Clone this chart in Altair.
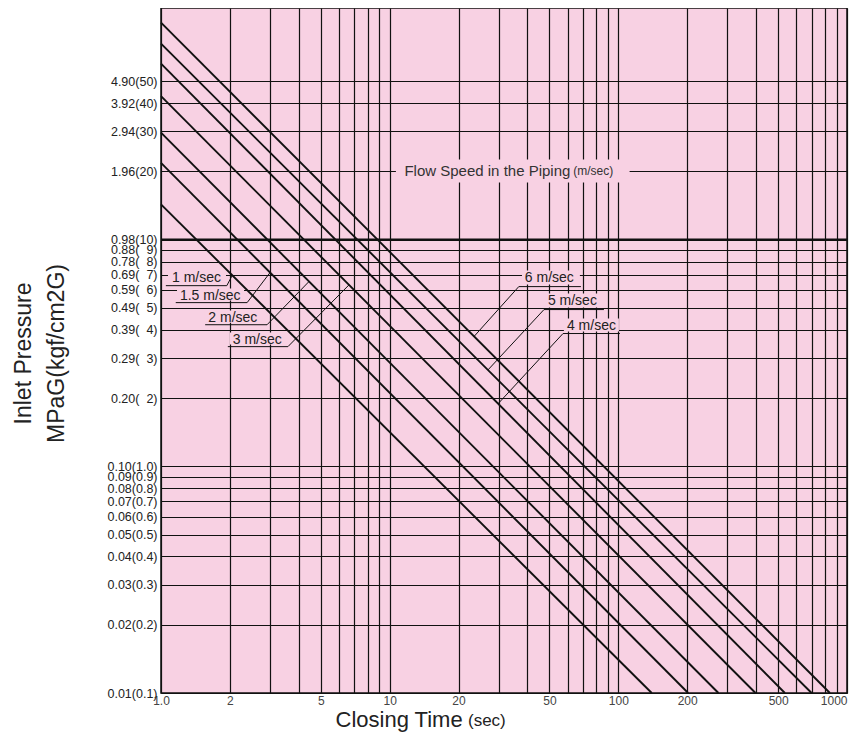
import math
import altair as alt
import pandas as pd

# ---------------- data ----------------
closing_time_grid = [1, 2, 3, 4, 5, 6, 7, 8, 9,
                     10, 20, 30, 40, 50, 60, 70, 80, 90,
                     100, 200, 300, 400, 500, 600, 700, 800, 900, 1000]
closing_time_ticks = [1, 2, 5, 10, 20, 50, 100, 200, 500, 1000]
closing_time_labels = ["1.0", "2", "5", "10", "20", "50", "100", "200", "500", "1000"]

pressure_kgf = [0.1, 0.2, 0.3, 0.4, 0.5, 0.6, 0.7, 0.8, 0.9, 1.0,
                2, 3, 4, 5, 6, 7, 8, 9, 10, 20, 30, 40, 50]
pressure_labels = ["0.01(0.1)", "0.02(0.2)", "0.03(0.3)", "0.04(0.4)", "0.05(0.5)",
                   "0.06(0.6)", "0.07(0.7)", "0.08(0.8)", "0.09(0.9)", "0.10(1.0)",
                   "0.20(\u20072)", "0.29(\u20073)", "0.39(\u20074)", "0.49(\u20075)",
                   "0.59(\u20076)", "0.69(\u20077)", "0.78(\u20078)", "0.88(\u20079)",
                   "0.98(10)", "1.96(20)", "2.94(30)", "3.92(40)", "4.90(50)"]

speed_names = ["1 m/sec", "1.5 m/sec", "2 m/sec", "3 m/sec", "4 m/sec", "5 m/sec", "6 m/sec"]
pressure_at_1s = [14.3, 21.8, 29.6, 42.9, 59.7, 73.1, 90.5]        # kgf/cm2 at t = 1 s
time_at_min_pressure = [140, 202, 274, 398, 535, 700, 842]          # s where line reaches 0.1 kgf/cm2

# ---------------- annotation placement (data units) ----------------
PINK = "#f8d1e3"
FONT = "Liberation Sans"

ann = {
    "1 m/sec":   dict(tx=1.117, tp=6.53, up=6.26, u0=1.05, u1=1.94, te=2.05, box=(1.073, 1.924, 7.37, 6.39), side="L"),
    "1.5 m/sec": dict(tx=1.21, tp=5.43, up=5.27, u0=1.16, u1=2.38, te=3.0, box=(1.175, 2.307, 6.08, 5.38), side="L"),
    "2 m/sec":   dict(tx=1.61, tp=4.35, up=4.21, u0=1.56, u1=2.91, te=4.44, box=(1.557, 2.765, 4.86, 4.30), side="L"),
    "3 m/sec":   dict(tx=2.06, tp=3.47, up=3.37, u0=1.96, u1=3.59, te=6.64, box=(2.003, 3.52, 3.89, 3.44), side="L"),
    "6 m/sec":   dict(tx=39.0, tp=6.53, up=6.20, u0=36.7, u1=68.6, te=23.4, box=(37.9, 67.9, 7.30, 6.33), side="R"),
    "5 m/sec":   dict(tx=49.2, tp=5.16, up=4.91, u0=47.3, u1=86.5, te=26.9, box=(47.8, 85.6, 5.78, 5.01), side="R"),
    "4 m/sec":   dict(tx=59.6, tp=4.0, up=3.85, u0=57.3, u1=101.6, te=29.8, box=(57.8, 100.6, 4.48, 3.93), side="R"),
}


def on_line(i, t):
    p1 = pressure_at_1s[i]
    tm = time_at_min_pressure[i]
    f = math.log10(t) / math.log10(tm)
    return 10 ** (math.log10(p1) + f * (math.log10(0.1) - math.log10(p1)))


# ---------------- tables ----------------
line_rows = []
for name, p1, tm in zip(speed_names, pressure_at_1s, time_at_min_pressure):
    line_rows.append({"speed": name, "t": 1, "p": p1})
    line_rows.append({"speed": name, "t": tm, "p": 0.1})
lines_df = pd.DataFrame(line_rows)

leader_rows, text_rows, box_rows = [], [], []
for i, name in enumerate(speed_names):
    a = ann[name]
    end = (a["te"], on_line(i, a["te"]))
    if a["side"] == "L":
        pts = [(a["u0"], a["up"]), (a["u1"], a["up"]), end]
    else:
        pts = [end, (a["u0"], a["up"]), (a["u1"], a["up"])]
    for k, (t, p) in enumerate(pts):
        leader_rows.append({"lab": name, "o": k, "t": t, "p": p})
    text_rows.append({"lab": name, "t": a["tx"], "p": a["tp"]})
    b = a["box"]
    box_rows.append({"t": b[0], "t2": b[1], "p": b[2], "p2": b[3]})
box_rows.append({"t": 10.65, "t2": 112, "p": 22.55, "p2": 17.85})

leaders_df = pd.DataFrame(leader_rows)
texts_df = pd.DataFrame(text_rows)
boxes_df = pd.DataFrame(box_rows)
flow_df = pd.DataFrame([
    {"txt": "Flow Speed in the Piping", "t": 11.6, "p": 20, "fs": 15},
    {"txt": "(m/sec)", "t": 63.5, "p": 20, "fs": 12},
])
ten_df = pd.DataFrame({"p": [10]})
sec_df = pd.DataFrame({"txt": ["(sec)"]})

# ---------------- axes & scales ----------------
xexpr = " : ".join(f"datum.value == {v} ? '{l}'" for v, l in zip(closing_time_ticks, closing_time_labels)) + " : ''"
yexpr = " : ".join(f"datum.value == {v} ? '{l}'" for v, l in zip(pressure_kgf, pressure_labels)) + " : ''"

xscale = alt.Scale(type="log", domain=[1, 1000], nice=False)
yscale = alt.Scale(type="log", domain=[0.1, 105], nice=False)

xaxis = alt.Axis(values=closing_time_grid, labelExpr=xexpr, grid=True, gridColor="#111111",
                 gridWidth=1.2, gridOpacity=1, ticks=False, domain=False,
                 labelFont=FONT, labelFontSize=12, labelColor="#444444", labelPadding=2,
                 labelAlign={"condition": {"test": "datum.value == 1000", "value": "right"},
                             "value": "center"},
                 labelFlush=False, labelOverlap=False,
                 title="Closing Time", titleFont=FONT, titleFontSize=22, titleFontWeight="normal",
                 titleColor="#222222", titleX=174, titleY=33, titleAlign="left",
                 titleBaseline="alphabetic")
yaxis = alt.Axis(values=pressure_kgf, labelExpr=yexpr, grid=True, gridColor="#111111",
                 gridWidth=1.2, gridOpacity=1, ticks=False, domain=False,
                 labelFont=FONT, labelFontSize=12.5, labelColor="#222222", labelPadding=4,
                 labelFlush=False, labelOverlap=False,
                 title=["Inlet Pressure", "MPaG(kgf/cm2G)"], titleFont=FONT, titleFontSize=23,
                 titleFontWeight="normal", titleColor="#222222", titleAngle=270,
                 titleX=-138, titleY=345, titleAlign="center", titleBaseline="middle",
                 titleLineHeight=33)

X = alt.X("t:Q", scale=xscale, axis=xaxis)
Y = alt.Y("p:Q", scale=yscale, axis=yaxis)

ten_rule = alt.Chart(ten_df).mark_rule(color="#111111", strokeWidth=2).encode(y=Y)

boxes = alt.Chart(boxes_df).mark_rect(fill=PINK).encode(x=X, x2="t2:Q", y=Y, y2="p2:Q")

speed_lines = alt.Chart(lines_df).mark_line(color="#111111", strokeWidth=1.9).encode(
    x=X, y=Y, detail="speed:N")

leaders = alt.Chart(leaders_df).mark_line(color="#111111", strokeWidth=1).encode(
    x=X, y=Y, detail="lab:N", order="o:Q")

labels = alt.Chart(texts_df).mark_text(align="left", baseline="alphabetic", font=FONT,
                                       fontSize=14, color="#222222").encode(
    x=X, y=Y, text="lab:N")

flow = alt.Chart(flow_df).mark_text(align="left", baseline="middle", font=FONT,
                                    color="#333333").encode(
    x=X, y=Y, text="txt:N", size=alt.Size("fs:Q", scale=None, legend=None))

sec = alt.Chart(sec_df).mark_text(align="left", baseline="alphabetic", font=FONT,
                                  fontSize=17, color="#222222").encode(
    x=alt.value(307), y=alt.value(718), text="txt:N")

chart = alt.layer(ten_rule, boxes, speed_lines, leaders, labels, flow, sec).properties(
    width=686, height=685,
    padding={"left": 153, "top": 0, "right": 6, "bottom": 39},
    autosize=alt.AutoSizeParams(type="none"),
    background="white",
).configure_view(fill=PINK, stroke="#111111", strokeWidth=1.5)

chart.save("out.html", embed_options={"renderer": "svg", "actions": False})
